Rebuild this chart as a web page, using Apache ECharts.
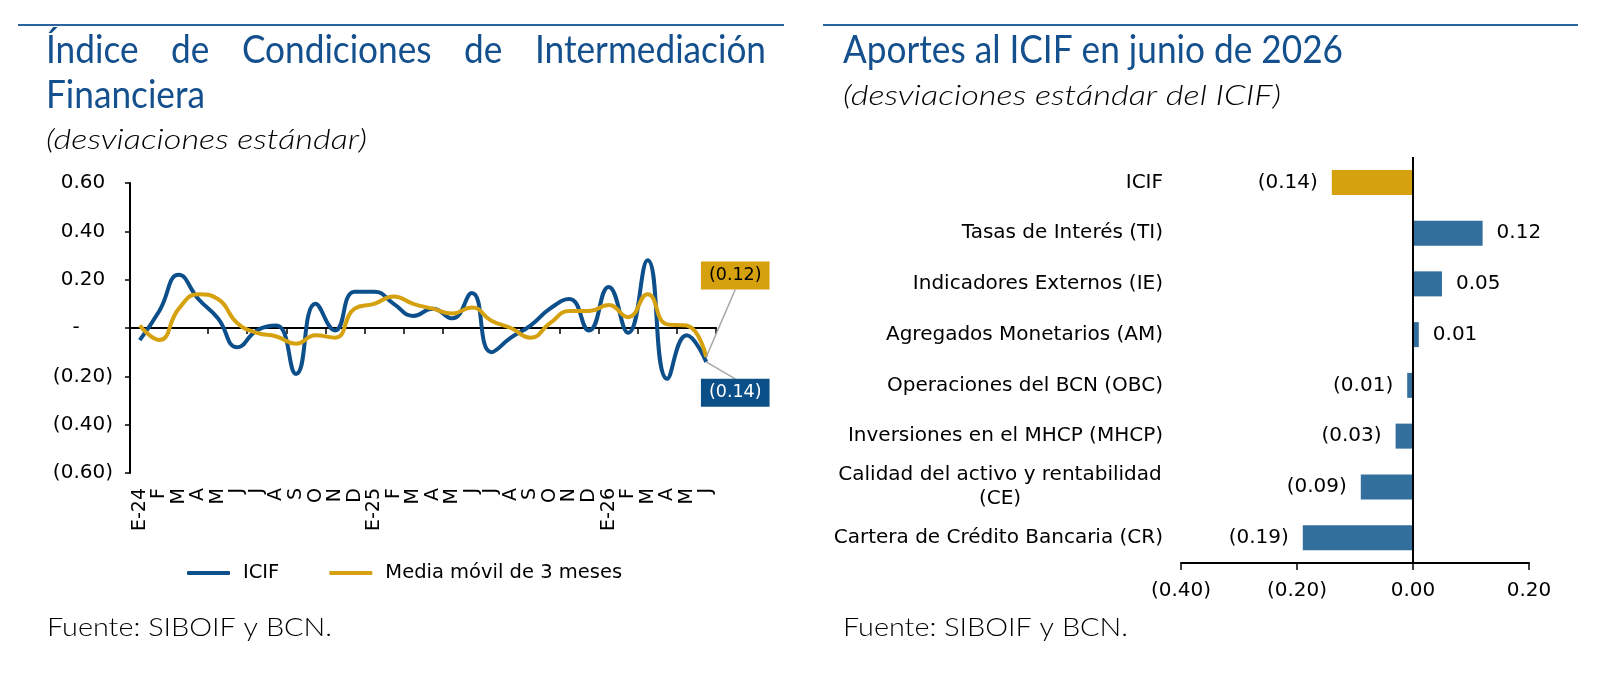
<!DOCTYPE html>
<html><head><meta charset="utf-8">
<script src="https://cdn.jsdelivr.net/npm/echarts@6/dist/echarts.min.js"></script>
<style>html,body{margin:0;padding:0;background:#fff}#c{width:1606px;height:682px}</style>
</head><body><div id="c"></div>
<script>
// ---------- data ----------
const months = ['E-24','F','M','A','M','J','J','A','S','O','N','D',
                'E-25','F','M','A','M','J','J','A','S','O','N','D',
                'E-26','F','M','A','M','J'];
const icif = [-0.05,0.07,0.22,0.12,0.04,-0.08,-0.01,0.01,-0.19,0.10,-0.01,0.15,
              0.15,0.10,0.05,0.08,0.04,0.145,-0.10,-0.04,0.01,0.08,0.12,-0.01,
              0.17,-0.02,0.28,-0.21,-0.03,-0.14];
const mediaMovil = [0.01,-0.05,0.08,0.14,0.12,0.02,-0.02,-0.035,-0.065,-0.03,-0.04,0.08,
                    0.10,0.13,0.10,0.08,0.06,0.085,0.03,0.0,-0.04,0.02,0.07,0.07,
                    0.095,0.045,0.14,0.015,0.01,-0.12];
const yTicks = {min:-0.6, max:0.6, step:0.2};

const barCats = ['ICIF','Tasas de Interés (TI)','Indicadores Externos (IE)','Agregados Monetarios (AM)',
                 'Operaciones del BCN (OBC)','Inversiones en el MHCP (MHCP)',
                 'Calidad del activo y rentabilidad\n(CE)','Cartera de Crédito Bancaria (CR)'];
const barVals = [-0.14,0.12,0.05,0.01,-0.01,-0.03,-0.09,-0.19];
const xTicksBar = {min:-0.4, max:0.2, step:0.2};

const leftTitleLine1 = ['Índice','de','Condiciones','de','Intermediación'];
const leftTitleLine2 = 'Financiera';
const leftSub = '(desviaciones estándar)';
const rightTitle = 'Aportes al ICIF en junio de 2026';
const rightSub = '(desviaciones estándar del ICIF)';
const source = 'Fuente: SIBOIF y BCN.';

// ---------- styles ----------
const BLUE = '#0d4f8b', GOLD = '#d5a10f', BAR = '#336f9c', TITLE = '#13508d', RULE = '#2b65a0';
const SANS = 'DejaVu Sans', TF = 'Lato';

const cv = document.createElement('canvas').getContext('2d');
function measure(t, font){ cv.font = font; return cv.measureText(t).width; }
function fmtPar(v){ const a = Math.abs(v).toFixed(2); return v < -1e-9 ? '(' + a + ')' : a; }

// title fitting
const titleFont = 'normal 38px ' + TF;
const tScale = 159 / measure(leftTitleLine2, titleFont);
const wWords = leftTitleLine1.map(w => measure(w, titleFont) * tScale);
const lineL = 46, lineR = 766;
const gap = (lineR - lineL - wWords.reduce((a,b)=>a+b,0)) / (leftTitleLine1.length - 1);
const graphics = [
  {type:'line', shape:{x1:18,y1:25,x2:784,y2:25}, style:{stroke:RULE, lineWidth:2}},
  {type:'line', shape:{x1:823,y1:25,x2:1578,y2:25}, style:{stroke:RULE, lineWidth:2}}
];
function txt(t, x, y, size, fstyle, weight, color, target){
  const f = fstyle + ' ' + weight + ' ' + size + 'px ' + TF;
  const s = target ? target / measure(t, f) : tScale;
  return {type:'text', x:x, y:y, scaleX:s, style:{text:t, fontSize:size, fontFamily:TF,
    fontStyle:fstyle, fontWeight:weight, fill:color,
    textAlign:'left', textVerticalAlign:'middle', align:'left', verticalAlign:'middle'}};
}
let cx = lineL;
leftTitleLine1.forEach((w,i) => { graphics.push(txt(w, cx, 51, 38, 'normal', 'normal', TITLE)); cx += wWords[i] + gap; });
graphics.push(txt(leftTitleLine2, 46, 96, 38, 'normal', 'normal', TITLE));
graphics.push(txt(leftSub, 46, 140, 27, 'italic', '300', '#000', 321));
graphics.push(txt(rightTitle, 843, 51, 38, 'normal', 'normal', TITLE, 500));
graphics.push(txt(rightSub, 843, 96, 27, 'italic', '300', '#000', 438));
graphics.push(txt(source, 47, 628, 26, 'normal', '300', '#000', 285));
graphics.push(txt(source, 843, 628, 26, 'normal', '300', '#000', 285));

// y axis label format (accounting style)
function fmtY(v){
  const a = Math.abs(v);
  if (a < 1e-9) return '-{h|00)}';
  if (v < 0) return '(' + a.toFixed(2) + ')';
  return a.toFixed(2) + '{h|)}';
}

const ceFirst = barCats[6].split('\n')[0];
const ceW = Math.ceil(measure(ceFirst, '20px "' + SANS + '"')) + 2;

const n = icif.length;
// callouts for the last value of each line (value taken from the series arrays)
const callouts = [
  {value:[n-1, icif[n-1]], box:'#0b4f88', ink:'#fff', dx:29, dy:31},
  {value:[n-1, mediaMovil[n-1]], box:GOLD, ink:'#000', dx:29, dy:-81.5}
];
function renderCallout(params, api){
  const c = callouts[params.dataIndex];
  const p = api.coord([api.value(0), api.value(1)]);
  const t = fmtPar(api.value(1));
  const h = 28, w = measure(t, '17.5px "' + SANS + '"') + 16;
  const bx = p[0] + c.dx, by = p[1] + c.dy;
  const ey = c.dy > 0 ? by - h/2 : by + h/2;
  return {type:'group', children:[
    {type:'line', shape:{x1:p[0], y1:p[1], x2:bx, y2:ey}, style:{stroke:'#a6a6a6', lineWidth:1.5}},
    {type:'rect', shape:{x:bx - w/2, y:by - h/2, width:w, height:h}, style:{fill:c.box}},
    {type:'text', x:bx, y:by, style:{text:t, fill:c.ink, fontFamily:SANS, fontSize:17.5,
      align:'center', verticalAlign:'middle', textAlign:'center', textVerticalAlign:'middle'}}
  ]};
}

const barData = barVals.map((v,i) => ({
  value:v,
  itemStyle:{color: i === 0 ? GOLD : BAR},
  label:{position: v < 0 ? 'left' : 'right'}
}));

const option = {
  animation:false,
  backgroundColor:'#fff',
  graphic: graphics,
  legend:{
    left:182, top:556, icon:'roundRect', itemWidth:43, itemHeight:4, itemGap:50,
    textStyle:{fontFamily:SANS, fontSize:19.5, color:'#000', lineHeight:24, padding:[0,0,0,8]},
    data:['ICIF','Media móvil de 3 meses']
  },
  grid:[
    {left:130, top:183, width:586, height:290},
    {left:1181, top:157, width:348, height:406}
  ],
  xAxis:[
    {gridIndex:0, type:'category', data:months, position:'bottom',
     axisLine:{show:false, onZero:false}, axisTick:{show:false},
     axisLabel:{rotate:90, interval:0, fontFamily:SANS, fontSize:19, color:'#000', margin:15}},
    {gridIndex:0, type:'category', data:months, position:'bottom',
     axisLine:{show:true, onZero:true, lineStyle:{color:'#000', width:2}},
     axisTick:{show:true, length:6, lineStyle:{color:'#000', width:1.5}},
     axisLabel:{show:false}},
    {gridIndex:1, type:'value', min:xTicksBar.min, max:xTicksBar.max, interval:xTicksBar.step,
     axisLine:{show:true, onZero:false, lineStyle:{color:'#000', width:2}},
     axisTick:{show:true, length:7, lineStyle:{color:'#000', width:1.5}},
     splitLine:{show:false},
     axisLabel:{formatter: v => fmtPar(v), fontFamily:SANS, fontSize:20, color:'#000', margin:18}}
  ],
  yAxis:[
    {gridIndex:0, type:'value', min:yTicks.min, max:yTicks.max, interval:yTicks.step,
     axisLine:{show:true, onZero:false, lineStyle:{color:'#000', width:2}},
     axisTick:{show:true, length:5, lineStyle:{color:'#000', width:1.5}},
     splitLine:{show:false},
     axisLabel:{formatter: fmtY, fontFamily:SANS, fontSize:20, color:'#000', margin:17,
       rich:{h:{fontFamily:SANS, fontSize:20, color:'rgba(0,0,0,0)'}}}},
    {gridIndex:1, type:'category', data:barCats, inverse:true,
     axisLine:{show:false, onZero:false}, axisTick:{show:false},
     axisLabel:{fontFamily:SANS, fontSize:20, color:'#000', margin:18, interval:0, lineHeight:23.5,
       formatter: v => v.indexOf('\n') >= 0 ? v.split('\n').map(s => '{c|' + s + '}').join('\n') : v,
       rich:{c:{width:ceW, align:'center', fontFamily:SANS, fontSize:20, color:'#000', lineHeight:23.5}}}}
  ],
  series:[
    {name:'ICIF', type:'line', xAxisIndex:0, yAxisIndex:0, data:icif, smooth:0.5,
     showSymbol:false, lineStyle:{color:BLUE, width:4}, itemStyle:{color:BLUE}},
    {name:'Media móvil de 3 meses', type:'line', xAxisIndex:0, yAxisIndex:0, data:mediaMovil, smooth:0.5,
     showSymbol:false, lineStyle:{color:GOLD, width:4}, itemStyle:{color:GOLD}},
    {name:'callouts', type:'custom', xAxisIndex:0, yAxisIndex:0, clip:false, silent:true, z:5,
     data:callouts.map(c => c.value), renderItem:renderCallout},
    {name:'Aportes', type:'bar', xAxisIndex:2, yAxisIndex:1, data:barData, barWidth:25,
     label:{show:true, formatter: p => fmtPar(p.value), fontFamily:SANS, fontSize:20, color:'#000', distance:14},
     markLine:{silent:true, symbol:['none','none'], label:{show:false},
       lineStyle:{color:'#000', width:2, type:'solid'}, data:[{xAxis:0}]}}
  ]
};
const chart = echarts.init(document.getElementById('c'), null, {renderer:'canvas'});
chart.setOption(option);
</script></body></html>
